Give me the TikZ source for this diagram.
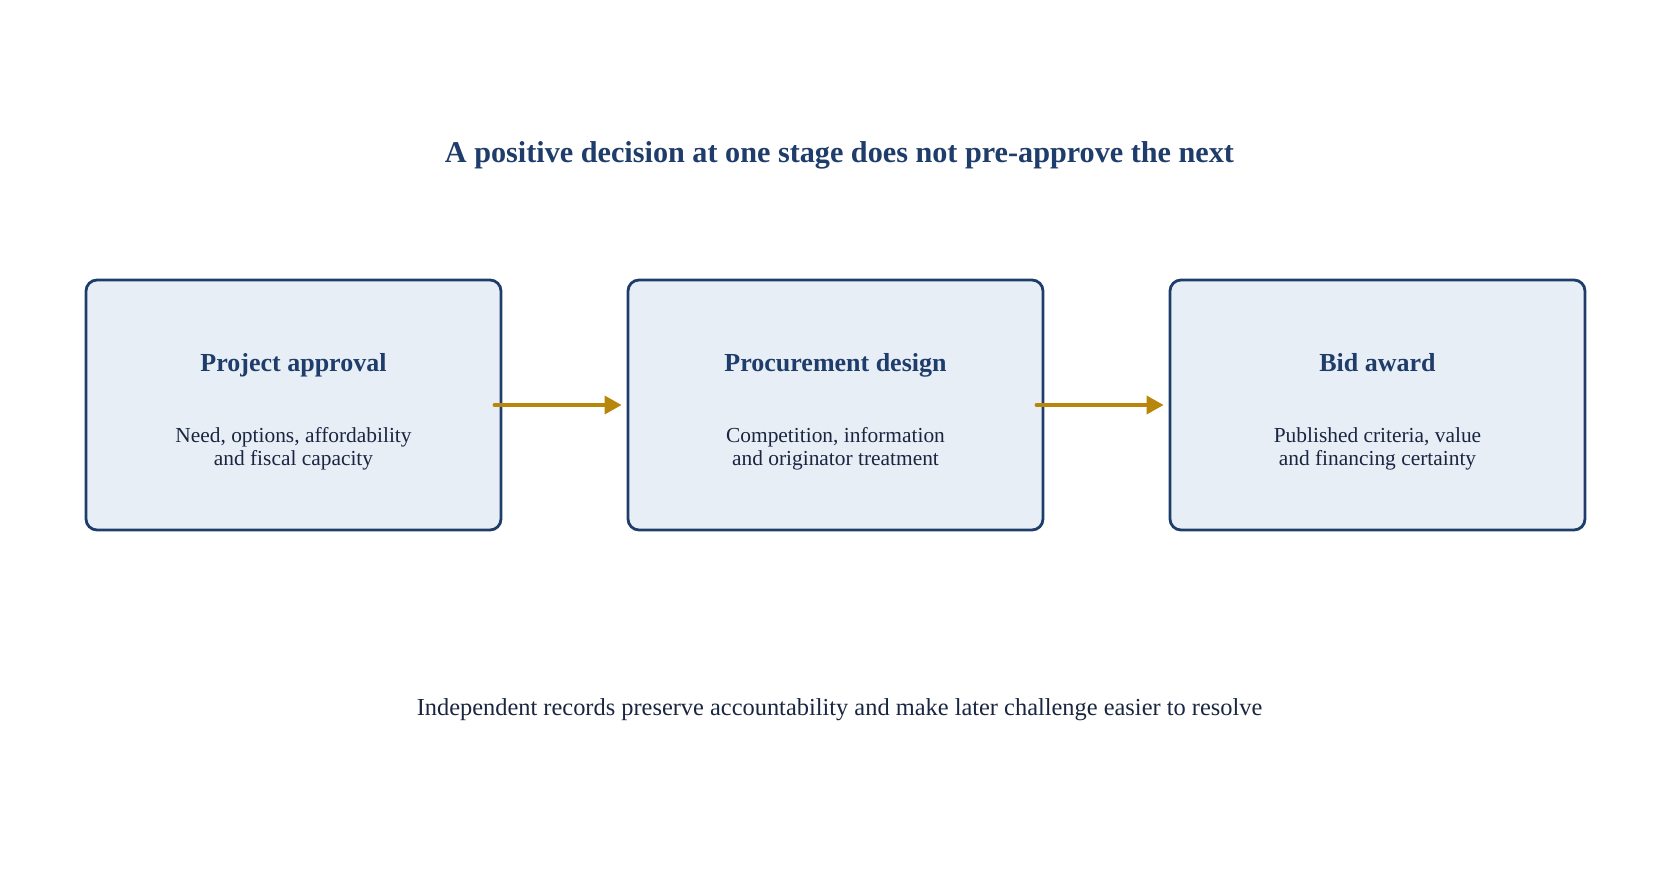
\documentclass[tikz,border=0pt]{standalone}
\usepackage{fontspec}
\setmainfont{Liberation Serif}
\usetikzlibrary{arrows.meta}
\definecolor{stageblue}{RGB}{31,61,107}
\definecolor{stagefill}{RGB}{232,238,246}
\definecolor{linkgold}{RGB}{184,134,11}
\definecolor{bodyink}{RGB}{26,37,64}
\tikzset{
  stagebox/.style={draw=stageblue,fill=stagefill,line width=2.8pt,rounded corners=11pt,
    minimum width=415pt,minimum height=250pt},
  stagehead/.style={anchor=base,text=stageblue,font=\bfseries\fontsize{26}{30}\selectfont},
  stagebody/.style={anchor=base,align=center,text=bodyink,font=\fontsize{21.4}{22.6}\selectfont},
  linkarrow/.style={draw=linkgold,line width=3.6pt,line cap=round,-{Triangle[length=17pt,width=18pt]}}
}
\begin{document}
\begin{tikzpicture}[x=1pt,y=-1pt]
\useasboundingbox (0,0) rectangle (1679,887);

% Title
\node[anchor=base,text=stageblue,font=\bfseries\fontsize{30.2}{34}\selectfont] (title) at (839.5,162)
  {A positive decision at one stage does not pre-approve the next};

% Stages
\foreach \n/\x/\head/\body in {
  prj/293.5/Project approval/{Need, options, affordability\\and fiscal capacity},
  prc/835.5/Procurement design/{Competition, information\\and originator treatment},
  bid/1377.5/Bid award/{Published criteria, value\\and financing certainty}}
{
  \node[stagebox] (\n) at (\x,405) {};
  \node[stagehead] (\n-head) at (\x,371) {\head};
  \node[stagebody] (\n-body) at (\x,465) {\body};
}

% Links
\draw[linkarrow] ([xshift=-8pt]prj.east) -- ([xshift=-5pt]prc.west);
\draw[linkarrow] ([xshift=-8pt]prc.east) -- ([xshift=-5pt]bid.west);

% Note
\node[anchor=base,text=bodyink,font=\fontsize{24.4}{28}\selectfont] (note) at (839.5,715)
  {Independent records preserve accountability and make later challenge easier to resolve};

\end{tikzpicture}
\end{document}
